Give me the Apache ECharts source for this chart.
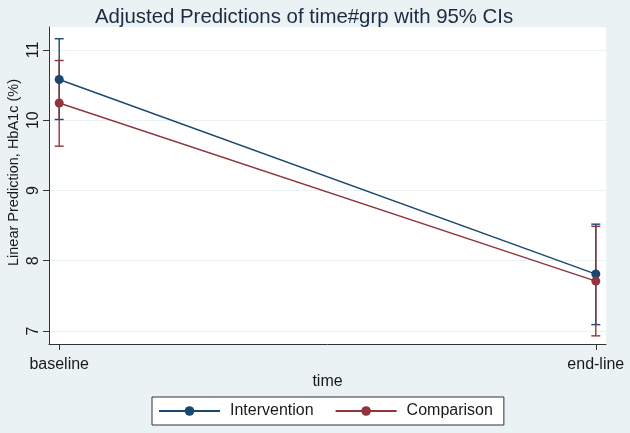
<!DOCTYPE html>
<html>
<head>
<meta charset="utf-8">
<script src="https://cdn.jsdelivr.net/npm/echarts@6/dist/echarts.min.js"></script>
<style>
html,body{margin:0;padding:0;background:#eaf2f3;}
#chart{width:630px;height:433px;}
</style>
</head>
<body>
<div id="chart"></div>
<script>
const categories = ['baseline', 'end-line'];
const categoryPos = [0, 1];
const interventionMean = [10.58, 7.81];
const interventionLow = [10.01, 7.09];
const interventionHigh = [11.16, 8.52];
const comparisonMean = [10.245, 7.71];
const comparisonLow = [9.63, 6.93];
const comparisonHigh = [10.85, 8.49];
const yTicks = [7, 8, 9, 10, 11];

const BLUE = '#1a476f';
const RED = '#90353b';
const FONT = 'Liberation Sans, Arial, sans-serif';

function ciData(low, high) {
  return categoryPos.map((x, i) => [x, low[i], high[i]]);
}
function lineData(mean) {
  return categoryPos.map((x, i) => [x, mean[i]]);
}
function makeCI(color) {
  return function (params, api) {
    const x = api.value(0);
    const lo = api.coord([x, api.value(1)]);
    const hi = api.coord([x, api.value(2)]);
    const w = 4.5;
    const style = { stroke: color, lineWidth: 1.4 };
    return {
      type: 'group',
      children: [
        { type: 'line', shape: { x1: lo[0], y1: lo[1], x2: hi[0], y2: hi[1] }, style: style },
        { type: 'line', shape: { x1: lo[0] - w, y1: lo[1], x2: lo[0] + w, y2: lo[1] }, style: style },
        { type: 'line', shape: { x1: hi[0] - w, y1: hi[1], x2: hi[0] + w, y2: hi[1] }, style: style }
      ]
    };
  };
}

const chart = echarts.init(document.getElementById('chart'), null, { renderer: 'canvas' });
chart.setOption({
  backgroundColor: '#eaf2f3',
  animation: false,
  textStyle: { fontFamily: FONT },
  title: {
    text: 'Adjusted Predictions of time#grp with 95% CIs',
    left: 90,
    top: 2,
    textStyle: { fontSize: 20.4, fontWeight: 'normal', color: '#1c2a44', fontFamily: FONT }
  },
  grid: {
    left: 49, right: 24, top: 27, bottom: 89,
    outerBoundsMode: 'none',
    containLabel: false,
    show: true, backgroundColor: '#ffffff', borderWidth: 0
  },
  legend: {
    left: 152, top: 397,
    padding: [6, 11, 6, 6],
    itemGap: 21,
    itemWidth: 61,
    itemHeight: 12,
    borderColor: '#333333',
    borderWidth: 1,
    backgroundColor: '#ffffff',
    borderRadius: 0,
    textStyle: { fontSize: 16, color: '#1a1a1a', fontFamily: FONT, padding: [0, 0, 0, 5] },
    data: ['Intervention', 'Comparison']
  },
  xAxis: {
    type: 'value',
    min: -0.019, max: 1.019,
    name: 'time',
    nameLocation: 'middle',
    nameGap: 30,
    nameMoveOverlap: false,
    nameTextStyle: { fontSize: 16, color: '#1a1a1a' },
    axisLine: { show: true, onZero: false, lineStyle: { color: '#333333', width: 1 } },
    axisTick: { show: true, length: 6, customValues: categoryPos, lineStyle: { color: '#333333' } },
    minorTick: { show: false },
    axisLabel: {
      customValues: categoryPos, margin: 13, fontSize: 16, color: '#1a1a1a',
      formatter: v => categories[Math.round(v)]
    },
    splitLine: { show: false },
    minorSplitLine: { show: false },
    splitArea: { show: false }
  },
  yAxis: {
    type: 'value',
    min: 6.814, max: 11.327,
    name: 'Linear Prediction, HbA1c (%)',
    nameLocation: 'middle',
    nameGap: 28,
    nameMoveOverlap: false,
    nameTextStyle: { fontSize: 14.5, color: '#1a1a1a', padding: [0, 0, 0, 26] },
    axisLine: { show: true, onZero: false, lineStyle: { color: '#333333', width: 1 } },
    axisTick: { show: true, length: 6, customValues: yTicks, lineStyle: { color: '#333333' } },
    axisLabel: { customValues: yTicks, rotate: 90, margin: 7, fontSize: 16, color: '#1a1a1a' },
    splitLine: { show: true, customValues: yTicks, lineStyle: { color: '#eaf2f3', width: 1 } }
  },
  series: [
    {
      type: 'custom', name: 'Intervention CI', renderItem: makeCI(BLUE),
      data: ciData(interventionLow, interventionHigh), z: 3
    },
    {
      type: 'custom', name: 'Comparison CI', renderItem: makeCI(RED),
      data: ciData(comparisonLow, comparisonHigh), z: 3
    },
    {
      name: 'Intervention', type: 'line', data: lineData(interventionMean),
      symbol: 'circle', symbolSize: 9, z: 4,
      lineStyle: { color: BLUE, width: 1.4 }, itemStyle: { color: BLUE }
    },
    {
      name: 'Comparison', type: 'line', data: lineData(comparisonMean),
      symbol: 'circle', symbolSize: 9, z: 4,
      lineStyle: { color: RED, width: 1.4 }, itemStyle: { color: RED }
    }
  ]
});
</script>
</body>
</html>
